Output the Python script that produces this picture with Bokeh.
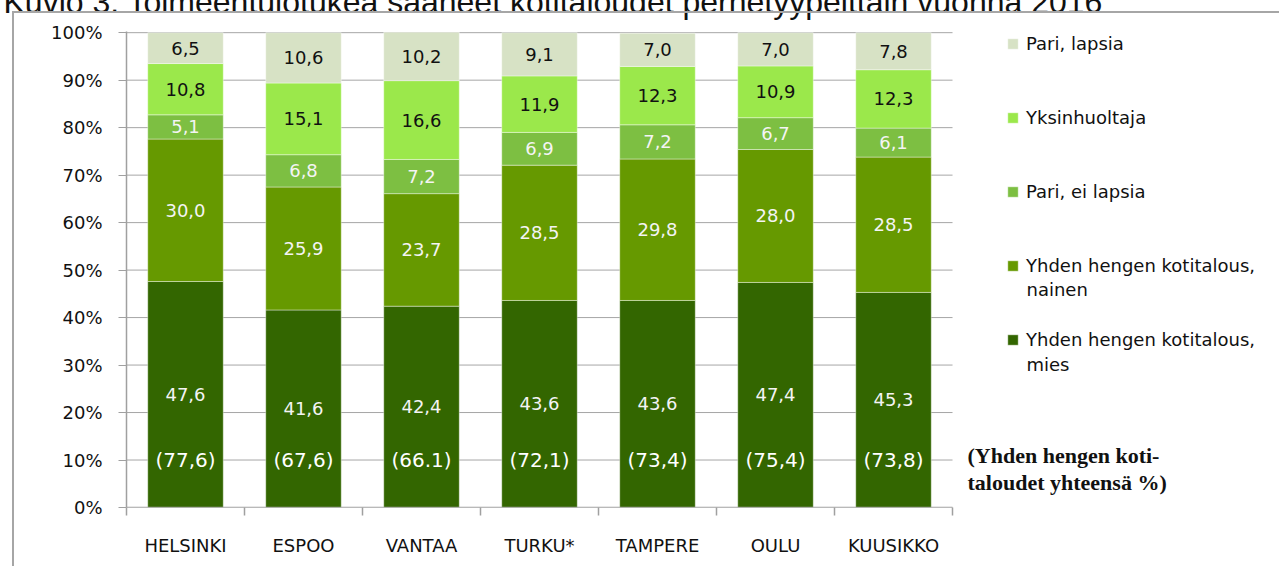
from bokeh.plotting import figure
from bokeh.models import (ColumnDataSource, Range1d, FixedTicker, LabelSet, Label,
                          Legend, LegendItem, InlineStyleSheet, Title)
from bokeh.embed import file_html
from bokeh.resources import INLINE
from bokeh.core.properties import value

# ---------------- data ----------------
title_text = "Kuvio 3. Toimeentulotukea saaneet kotitaloudet perhetyypeittäin vuonna 2016"
cities = ["HELSINKI", "ESPOO", "VANTAA", "TURKU*", "TAMPERE", "OULU", "KUUSIKKO"]
mies = [47.6, 41.6, 42.4, 43.6, 43.6, 47.4, 45.3]
nainen = [30.0, 25.9, 23.7, 28.5, 29.8, 28.0, 28.5]
pari_ei_lapsia = [5.1, 6.8, 7.2, 6.9, 7.2, 6.7, 6.1]
yksinhuoltaja = [10.8, 15.1, 16.6, 11.9, 12.3, 10.9, 12.3]
pari_lapsia = [6.5, 10.6, 10.2, 9.1, 7.0, 7.0, 7.8]
totals = ["(77,6)", "(67,6)", "(66.1)", "(72,1)", "(73,4)", "(75,4)", "(73,8)"]
y_ticks = [0, 10, 20, 30, 40, 50, 60, 70, 80, 90, 100]
y_tick_labels = ["0%", "10%", "20%", "30%", "40%", "50%", "60%", "70%", "80%", "90%", "100%"]
series_names = ["Yhden hengen kotitalous, mies", "Yhden hengen kotitalous, nainen",
                "Pari, ei lapsia", "Yksinhuoltaja", "Pari, lapsia"]
legend_first = ["Yhden hengen kotitalous,", "Yhden hengen kotitalous,",
                "Pari, ei lapsia", "Yksinhuoltaja", "Pari, lapsia"]
legend_second = ["mies", "nainen"]
note_lines = ["(Yhden hengen koti-", "taloudet yhteensä %)"]

series_values = [mies, nainen, pari_ei_lapsia, yksinhuoltaja, pari_lapsia]
colors = ["#336600", "#669900", "#7DBF42", "#9BE84B", "#D7E2C5"]
label_colors = ["#f4f4f4", "#f4f4f4", "#f4f4f4", "#111111", "#111111"]

FONT_NAME = "DejaVu Sans"
FONT = value(FONT_NAME)
n = len(cities)
GRID = "#a6a6a6"

# ---------------- figure ----------------
SHIFT = 45
W, H = 1279, 566 + SHIFT
x_end = 9.771
p = figure(width=W, height=H, x_range=Range1d(0, x_end), y_range=Range1d(0, 100.25),
           output_backend="svg", toolbar_location=None,
           min_border_left=126, min_border_right=0, min_border_top=31 + SHIFT,
           min_border_bottom=59)
p.styles = {"margin-top": f"-{SHIFT}px"}
p.stylesheets = [InlineStyleSheet(css=f"""
:host {{ position: relative; }}
:host::after {{ content: ''; position: absolute; left: 12px; top: {11 + SHIFT}px; right: 0px; bottom: 0px;
  border-left: 2px solid #a6a6a6; border-top: 2px solid #a6a6a6; pointer-events: none; }}
""")]
p.outline_line_color = None
p.background_fill_color = "white"
p.border_fill_color = "white"
p.xgrid.visible = False
p.ygrid.visible = False

# horizontal gridlines only over the category area
p.segment(x0=[0] * len(y_ticks), x1=[n] * len(y_ticks), y0=y_ticks, y1=y_ticks,
          line_color=GRID, line_width=1)

source = ColumnDataSource(dict(
    x=[i + 0.5 for i in range(n)], city=cities,
    **{f"s{k}": v for k, v in enumerate(series_values)}))
stackers = [f"s{k}" for k in range(len(series_values))]
rs = p.vbar_stack(stackers, x="x", width=0.64, fill_color=colors,
                  line_color="#ffffff", line_alpha=0.4, line_width=1, source=source)

# baseline (x axis line) over the bars
p.segment(x0=[0], x1=[n], y0=[0], y1=[0], line_color="#a0a0a0", line_width=1.5)

# value labels
lx, ly, lt, lc = [], [], [], []
for i in range(n):
    base = 0.0
    for k, vals in enumerate(series_values):
        v = vals[i]
        lx.append(i + 0.5)
        ly.append(base + v / 2)
        lt.append(f"{v:.1f}".replace(".", ","))
        lc.append(label_colors[k])
        base += v
lsrc = ColumnDataSource(dict(x=lx, y=ly, t=lt, c=lc))
p.add_layout(LabelSet(x="x", y="y", text="t", text_color="c", source=lsrc,
                      text_align="center", text_baseline="middle",
                      text_font=FONT, text_font_size="18px"))

tsrc = ColumnDataSource(dict(x=[i + 0.5 for i in range(n)], y=[10] * n, t=totals))
p.add_layout(LabelSet(x="x", y="y", text="t", source=tsrc, text_color="#ffffff",
                      text_align="center", text_baseline="middle",
                      text_font=FONT, text_font_size="20px"))

# axes
ya = p.yaxis[0]
ya.ticker = FixedTicker(ticks=y_ticks)
ya.major_label_overrides = {t: l for t, l in zip(y_ticks, y_tick_labels)}
ya.axis_line_color = "#a0a0a0"
ya.axis_line_width = 1.5
ya.major_tick_line_color = "#a0a0a0"
ya.major_tick_out = 8
ya.major_tick_in = 0
ya.minor_tick_line_color = None
ya.major_label_standoff = 16
ya.major_label_text_font = FONT_NAME
ya.major_label_text_font_size = "18px"
ya.major_label_text_color = "#111111"

xa = p.xaxis[0]
xa.ticker = FixedTicker(ticks=[i + 0.5 for i in range(n)], minor_ticks=list(range(n + 1)))
xa.major_label_overrides = {i + 0.5: c for i, c in enumerate(cities)}
xa.axis_line_color = None
xa.major_tick_line_color = None
xa.major_tick_out = 0
xa.major_tick_in = 0
xa.minor_tick_line_color = "#a0a0a0"
xa.minor_tick_line_width = 1.5
xa.minor_tick_out = 8
xa.minor_tick_in = 0
xa.major_label_standoff = 19
xa.major_label_text_font = FONT_NAME
xa.major_label_text_font_size = "18px"
xa.major_label_text_color = "#111111"

# legend
items = [LegendItem(label=legend_first[k], renderers=[rs[k]]) for k in reversed(range(len(rs)))]
legend = Legend(items=items, location=(880, 157), orientation="vertical",
                glyph_width=13, glyph_height=13, label_height=20, spacing=53,
                padding=0, margin=0, label_standoff=7,
                border_line_alpha=0, background_fill_alpha=0,
                label_text_font=FONT_NAME, label_text_font_size="18px",
                label_text_color="#111111")
p.add_layout(legend)

for txt, yv in zip(legend_second, [30.1, 45.9]):
    p.add_layout(Label(x=7.627, y=yv, text=txt, text_baseline="middle",
                       text_font=FONT_NAME, text_font_size="18px", text_color="#111111"))

for txt, yv in zip(note_lines, [10.95, 5.26]):
    p.add_layout(Label(x=7.127, y=yv, text=txt, text_baseline="middle",
                       text_font="Liberation Serif", text_font_style="bold",
                       text_font_size="22px", text_color="#111111"))

p.add_layout(Title(text=title_text, align="left", offset=-123, standoff=23,
                   text_font="Liberation Sans", text_font_style="normal",
                   text_font_size="32px", text_color="#111111"), "above")

open("out.html", "w").write(file_html(p, INLINE))
